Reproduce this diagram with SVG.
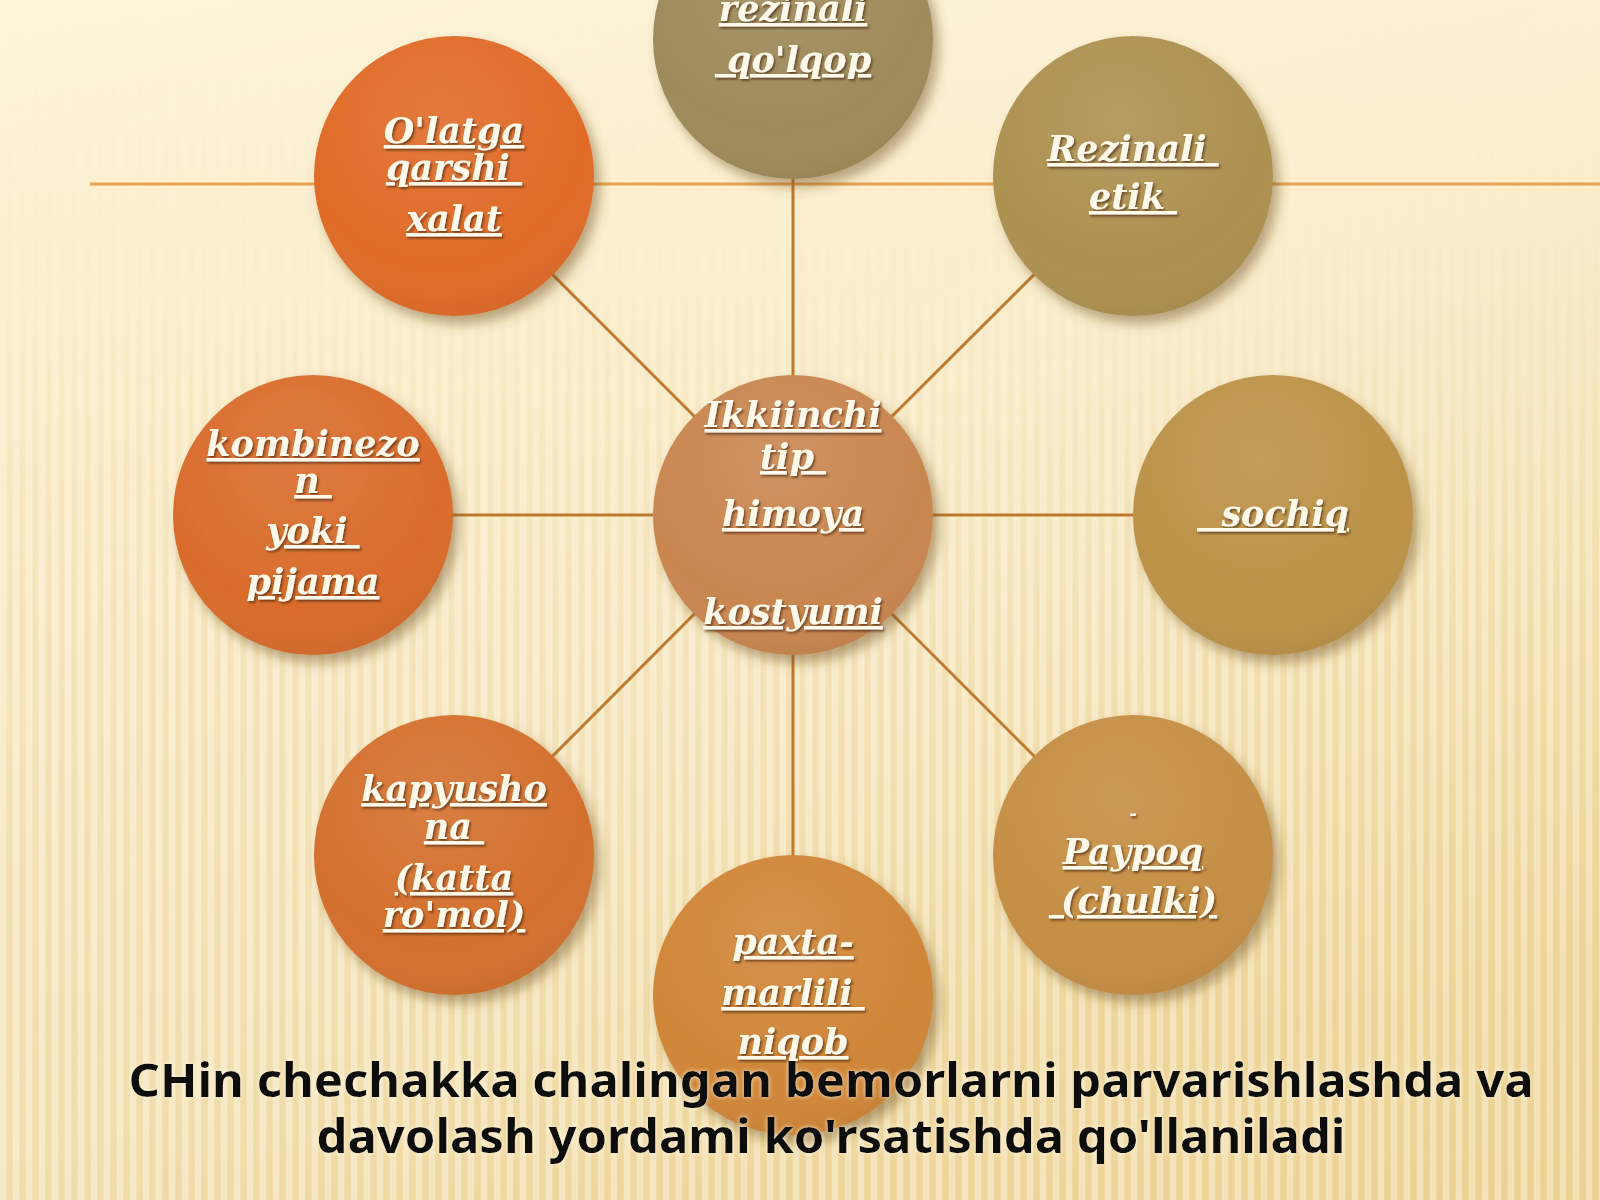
<svg xmlns="http://www.w3.org/2000/svg" width="1600" height="1200" viewBox="0 0 1600 1200">
<defs>
  <linearGradient id="bg" x1="0" y1="0" x2="0.3" y2="1">
    <stop offset="0" stop-color="#FDF4DA"/>
    <stop offset="0.45" stop-color="#F8E8BE"/>
    <stop offset="1" stop-color="#EFD698"/>
  </linearGradient>
  <linearGradient id="band" x1="0" y1="0" x2="1" y2="1">
    <stop offset="0" stop-color="#FFFFFF" stop-opacity="0"/>
    <stop offset="0.5" stop-color="#FFFFFF" stop-opacity="0.2"/>
    <stop offset="1" stop-color="#FFFFFF" stop-opacity="0"/>
  </linearGradient>
  <pattern id="stripes" x="0" y="0" width="13" height="20" patternUnits="userSpaceOnUse">
    <rect x="0" y="0" width="6" height="20" fill="#FFFFFF" opacity="0.3"/>
    <rect x="7" y="0" width="5" height="20" fill="#D9B870" opacity="0.14"/>
  </pattern>
  <linearGradient id="stripeFade" x1="0" y1="0" x2="0" y2="1">
    <stop offset="0" stop-color="#FFFFFF" stop-opacity="0"/>
    <stop offset="0.25" stop-color="#FFFFFF" stop-opacity="0.15"/>
    <stop offset="0.5" stop-color="#FFFFFF" stop-opacity="0.8"/>
    <stop offset="1" stop-color="#FFFFFF" stop-opacity="1"/>
  </linearGradient>
  <mask id="stripeMask">
    <rect width="1600" height="1200" fill="url(#stripeFade)"/>
  </mask>
  <radialGradient id="shade" cx="0.45" cy="0.3" r="0.75">
    <stop offset="0" stop-color="#FFFFFF" stop-opacity="0.1"/>
    <stop offset="0.7" stop-color="#FFFFFF" stop-opacity="0"/>
    <stop offset="1" stop-color="#000000" stop-opacity="0.07"/>
  </radialGradient>
  <filter id="drop" x="-20%" y="-20%" width="150%" height="150%">
    <feDropShadow dx="6" dy="8" stdDeviation="6" flood-color="#6B4A1E" flood-opacity="0.45"/>
  </filter>
  <filter id="tshadow" x="-10%" y="-20%" width="120%" height="150%">
    <feDropShadow dx="1.5" dy="2" stdDeviation="1" flood-color="#4A2A0A" flood-opacity="0.7"/>
  </filter>
  <filter id="glow" x="-5%" y="-20%" width="110%" height="150%">
    <feDropShadow dx="0" dy="0" stdDeviation="2" flood-color="#FFF6DC" flood-opacity="0.9"/>
  </filter>
  <style>
    .lbl { font-family: "DejaVu Serif", "Liberation Serif", serif; font-weight: bold; font-style: italic; font-size: 35px; fill: #FFF9EC; text-anchor: middle; text-decoration: underline; white-space: pre; }
    .conn { stroke: #C07A30; stroke-width: 3; fill: none; }
    .hline { stroke: #E9A24E; stroke-width: 3; fill: none; }
    .cap { font-family: "Noto Sans", "Open Sans", sans-serif; font-weight: bold; font-size: 46px; fill: #111111; text-anchor: middle; }
  </style>
</defs>

<g id="background">
  <rect width="1600" height="1200" fill="url(#bg)"/>
  <rect width="1600" height="1200" fill="url(#stripes)" mask="url(#stripeMask)"/>
  <rect width="1600" height="1200" fill="url(#band)"/>
</g>

<g id="connectors">
  <line class="hline" x1="90" y1="184" x2="1600" y2="184"/>
  <line class="conn" x1="793" y1="515" x2="793" y2="39"/>
  <line class="conn" x1="793" y1="515" x2="454" y2="176"/>
  <line class="conn" x1="793" y1="515" x2="1133" y2="176"/>
  <line class="conn" x1="793" y1="515" x2="313" y2="515"/>
  <line class="conn" x1="793" y1="515" x2="1273" y2="515"/>
  <line class="conn" x1="793" y1="515" x2="454" y2="855"/>
  <line class="conn" x1="793" y1="515" x2="1133" y2="855"/>
  <line class="conn" x1="793" y1="515" x2="793" y2="995"/>
</g>

<g id="node-qolqop" filter="url(#drop)">
  <circle cx="793" cy="39" r="140" fill="#9E8B5B"/>
  <circle cx="793" cy="39" r="140" fill="url(#shade)"/>
</g>
<g id="node-olatga" filter="url(#drop)">
  <circle cx="454" cy="176" r="140" fill="#E06B28"/>
  <circle cx="454" cy="176" r="140" fill="url(#shade)"/>
</g>
<g id="node-etik" filter="url(#drop)">
  <circle cx="1133" cy="176" r="140" fill="#AD9150"/>
  <circle cx="1133" cy="176" r="140" fill="url(#shade)"/>
</g>
<g id="node-kombinezon" filter="url(#drop)">
  <circle cx="313" cy="515" r="140" fill="#D96C2C"/>
  <circle cx="313" cy="515" r="140" fill="url(#shade)"/>
</g>
<g id="node-center" filter="url(#drop)">
  <circle cx="793" cy="515" r="140" fill="#C98650"/>
  <circle cx="793" cy="515" r="140" fill="url(#shade)"/>
</g>
<g id="node-sochiq" filter="url(#drop)">
  <circle cx="1273" cy="515" r="140" fill="#BC9248"/>
  <circle cx="1273" cy="515" r="140" fill="url(#shade)"/>
</g>
<g id="node-kapyushona" filter="url(#drop)">
  <circle cx="454" cy="855" r="140" fill="#D4702E"/>
  <circle cx="454" cy="855" r="140" fill="url(#shade)"/>
</g>
<g id="node-paypoq" filter="url(#drop)">
  <circle cx="1133" cy="855" r="140" fill="#C58E44"/>
  <circle cx="1133" cy="855" r="140" fill="url(#shade)"/>
</g>
<g id="node-paxta" filter="url(#drop)">
  <circle cx="793" cy="995" r="140" fill="#D08638"/>
  <circle cx="793" cy="995" r="140" fill="url(#shade)"/>
</g>

<g id="labels" filter="url(#tshadow)">
  <text class="lbl" x="793" y="21">rezinali</text>
  <text class="lbl" x="793" y="72"> qo'lqop</text>

  <text class="lbl" x="454" y="143">O'latga</text>
  <text class="lbl" x="454" y="180">qarshi </text>
  <text class="lbl" x="454" y="231">xalat</text>

  <text class="lbl" x="1133" y="161">Rezinali </text>
  <text class="lbl" x="1133" y="209">etik </text>

  <text class="lbl" x="793" y="427">Ikkiinchi</text>
  <text class="lbl" x="793" y="469">tip </text>
  <text class="lbl" x="793" y="526">himoya</text>
  <text class="lbl" x="793" y="624">kostyumi</text>

  <text class="lbl" x="313" y="456">kombinezo</text>
  <text class="lbl" x="313" y="493">n </text>
  <text class="lbl" x="313" y="543">yoki </text>
  <text class="lbl" x="313" y="594">pijama</text>

  <text class="lbl" x="1273" y="526">  sochiq</text>

  <text class="lbl" x="454" y="801">kapyusho</text>
  <text class="lbl" x="454" y="839">na </text>
  <text class="lbl" x="454" y="890">(katta</text>
  <text class="lbl" x="454" y="927">ro'mol)</text>

  <text class="lbl" x="1133" y="820" style="font-size:18px;text-decoration:none">-</text>
  <text class="lbl" x="1133" y="864">Paypoq</text>
  <text class="lbl" x="1133" y="913"> (chulki)</text>

  <text class="lbl" x="793" y="954">paxta-</text>
  <text class="lbl" x="793" y="1005">marlili </text>
  <text class="lbl" x="793" y="1054">niqob</text>
</g>

<g id="caption" filter="url(#glow)">
  <text class="cap" x="831" y="1097" textLength="1405" lengthAdjust="spacingAndGlyphs">CHin chechakka chalingan bemorlarni parvarishlashda va</text>
  <text class="cap" x="831" y="1153" textLength="1029" lengthAdjust="spacingAndGlyphs">davolash yordami ko'rsatishda qo'llaniladi</text>
</g>
</svg>
